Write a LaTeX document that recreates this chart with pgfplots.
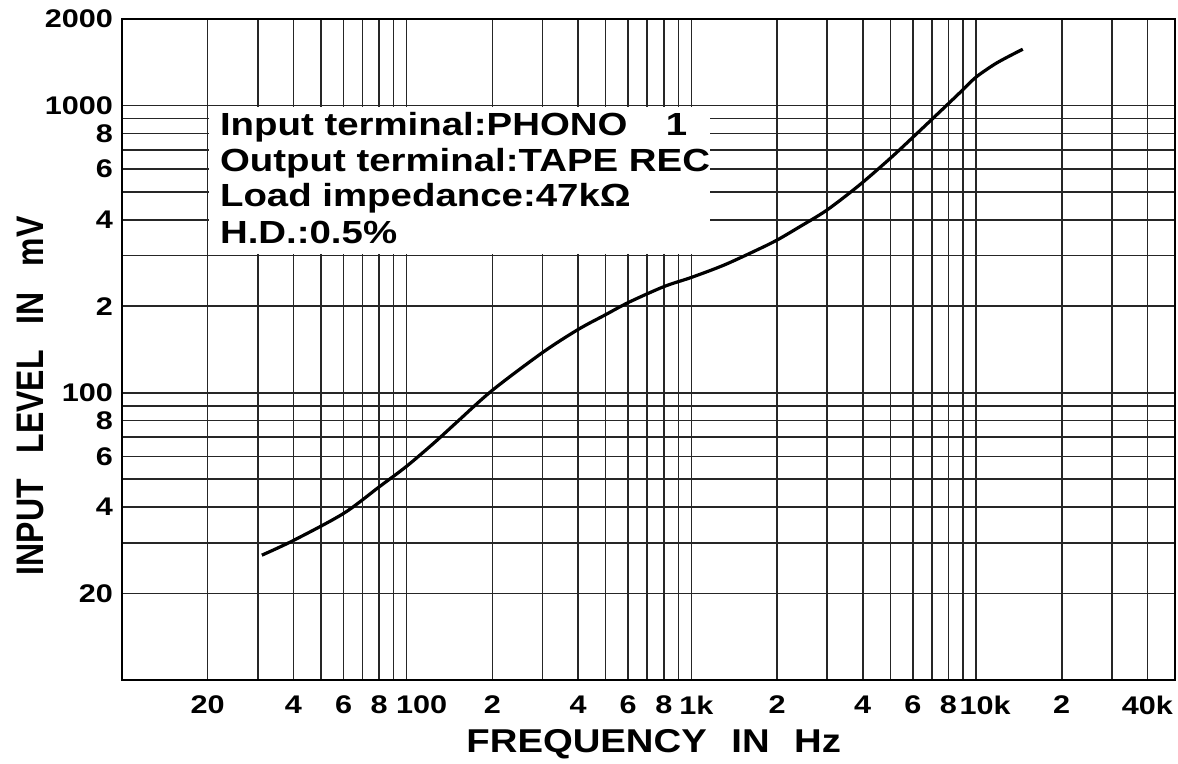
\documentclass[border=0pt]{standalone}
\usepackage{fontspec}
\setmainfont{Liberation Sans}
\usepackage{pgfplots}
\pgfplotsset{compat=1.18}
% the printed chart is stretched sideways, so text is widened a little
\newcommand\W[1]{\scalebox{1.2}[1]{#1}}

\begin{document}
\begin{tikzpicture}
\begin{axis}[
    xmode=log, ymode=log,
    scale only axis, width=526.5pt, height=330.5pt,
    xmin=10, xmax=50000, ymin=10, ymax=2000,
    axis line style={line width=1.2pt},
    grid=major,
    major grid style={black!85, line width=0.8pt},
    major tick length=0pt, minor tick length=0pt,
    xtick={20,30,40,50,60,70,80,90,100,200,300,400,500,600,700,800,900,
           1000,2000,3000,4000,5000,6000,7000,8000,9000,10000,20000,30000,40000},
    xticklabels={\W{20},{},\W{4},{},\W{6},{},\W{8},{},\W{\hspace*{12.5pt}100},
                 \W{2},{},\W{4},{},\W{6},{},\W{8},{},\W{\hspace*{4.2pt}1k},
                 \W{2},{},\W{4},{},\W{6},{},\W{8},{},\W{\hspace*{7.5pt}10k},
                 \W{2},{},\W{40k}},
    ytick={20,30,40,50,60,70,80,90,100,200,300,400,500,600,700,800,900,1000,2000},
    yticklabels={\W{20},{},\W{4},{},\W{6},{},\W{8},{},\W{100},
                 \W{2},{},\W{4},{},\W{6},{},\W{8},{},\W{1000},\W{2000}},
    ticklabel style={font=\fontsize{12.75}{13}\selectfont\bfseries},
    xticklabel style={yshift=-4.3pt},
    yticklabel style={xshift=-1pt},
    clip=false,
]
\coordinate (sw) at (rel axis cs:0,0);
\coordinate (ne) at (rel axis cs:1,1);

% white panel behind the test conditions
\fill[white] ([xshift=0.6pt,yshift=0.6pt]axis cs:20,300) rectangle ([yshift=-0.6pt]axis cs:1160,1000);

\addplot[smooth, black, line width=1.6pt] coordinates {
    (31,27.2) (40,30.6) (60,38) (80,47) (100,55.5) (125,67) (150,79)
    (200,102) (300,138) (400,166) (500,187) (600,206) (800,234)
    (1000,252) (1300,278) (1700,314) (2000,340) (2400,378) (3000,433)
    (3900,529) (5000,655) (6000,775) (7000,895) (8000,1015) (9000,1135)
    (10000,1255) (11600,1390) (13000,1480) (14600,1570)
};

\begin{scope}[font=\fontsize{16}{16}\selectfont\bfseries]
\node[anchor=base west] at (axis description cs:0.0864,0.8245) {\W{Input terminal:PHONO\hspace{16pt}1}};
\node[anchor=base west] at (axis description cs:0.0864,0.770) {\W{Output terminal:TAPE REC}};
\node[anchor=base west] at (axis description cs:0.0864,0.7156) {\W{Load impedance:47kΩ}};
\node[anchor=base west] at (axis description cs:0.0864,0.661) {\W{H.D.:0.5\%}};
\end{scope}

\node[anchor=base, font=\fontsize{16.5}{17}\selectfont\bfseries]
    at (axis description cs:0.505,-0.109)
    {\scalebox{1.16}[1]{FREQUENCY\hspace{10.6pt}IN\hspace{10.6pt}Hz}};
\node[rotate=90, anchor=base, font=\fontsize{16}{16}\selectfont\bfseries]
    at (axis description cs:-0.075,0.430)
    {\scalebox{1}[1.2]{INPUT\hspace{13pt}LEVEL\hspace{13pt}IN\hspace{13pt}mV}};
\end{axis}
\pgfresetboundingbox
\path[use as bounding box] ([xshift=-61pt,yshift=-41.5pt]sw) rectangle ([xshift=1.5pt,yshift=9.5pt]ne);
\end{tikzpicture}
\end{document}
